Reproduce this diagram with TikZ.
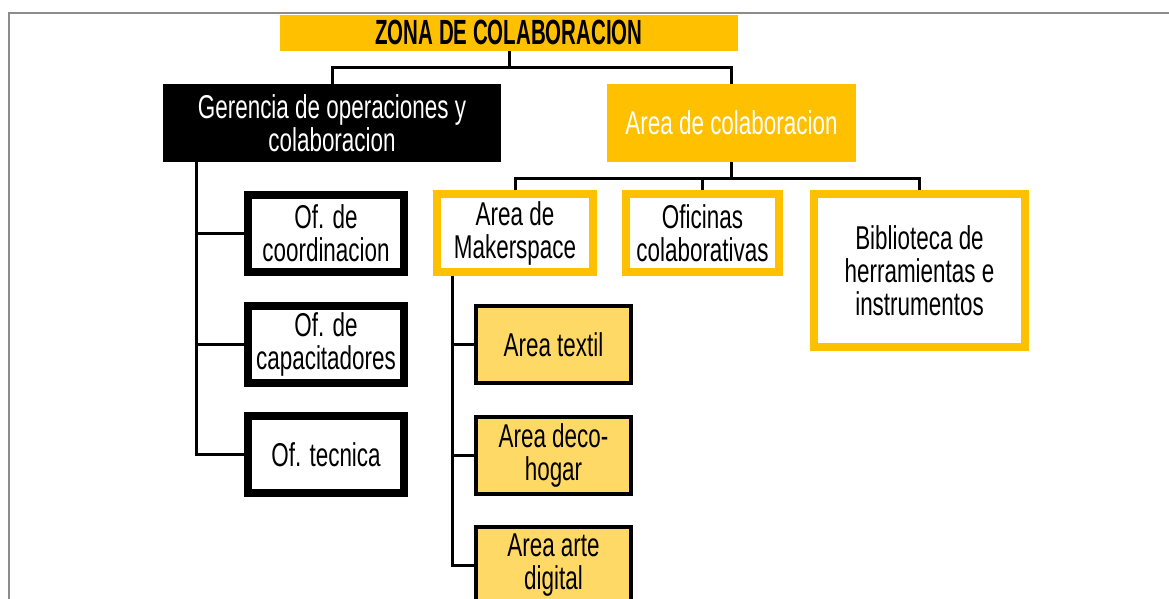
\documentclass[tikz,border=0pt]{standalone}
\usepackage{fontspec}
\setmainfont{Liberation Sans}[FakeStretch=0.68]
\newfontfamily\titlefont{Liberation Sans}[FakeStretch=0.585]
\usepackage{xcolor}
\usetikzlibrary{positioning}

\definecolor{gold}{HTML}{FFC000}
\definecolor{lightgold}{HTML}{FFD966}
\definecolor{framegray}{HTML}{8C8C8C}

\begin{document}
\begin{tikzpicture}[x=1pt, y=-1pt,
    txt/.style={align=center, inner sep=2pt, font=\fontsize{33}{33}\selectfont},
    goldbox/.style={txt, draw=gold, line width=8pt, fill=white},
    blackbox/.style={txt, draw=black, line width=8pt, fill=white},
    subbox/.style={txt, draw=black, line width=4pt, fill=lightgold,
        minimum width=155pt, minimum height=77pt},
    conn/.style={line width=3pt}]
    \useasboundingbox (0,0) rectangle (1169,599);
    \clip (0,0) rectangle (1169,599);

    % --- Frame ---
    \draw[framegray, line width=2pt] (9,599) -- (9,13.3) -- (1169,13.3);

    % --- Title ---
    \node[fill=gold, minimum width=458pt, minimum height=35.7pt, inner sep=0pt,
        font=\titlefont\bfseries\fontsize{35}{36}\selectfont] (title) at (509,32.9) {ZONA DE COLABORACION};

    % --- Second level ---
    \node[txt, fill=black, text=white, minimum width=338pt, minimum height=77.5pt] (ger) at (332,122.8)
        {Gerencia de operaciones y\\colaboracion};
    \node[txt, fill=gold, text=white, minimum width=249pt, minimum height=77.5pt] (areacol) at (731.5,122.8)
        {Area de colaboracion};

    % --- Offices (under Gerencia) ---
    \node[blackbox, minimum width=156pt, minimum height=77pt] (ofcoord) at (326,233.3) {Of. de\\coordinacion};
    \node[blackbox, minimum width=156pt, minimum height=77pt] (ofcap) at (326,344.2) {Of. de\\capacitadores};
    \node[blackbox, minimum width=156pt, minimum height=77pt] (oftec) at (326,454.5) {Of. tecnica};

    % --- Areas (under Area de colaboracion) ---
    \node[goldbox, minimum width=156pt, minimum height=78pt] (maker) at (515,233) {Area de\\Makerspace};
    \node[goldbox, minimum width=153pt, minimum height=78pt] (ofic) at (702.5,233) {Oficinas\\colaborativas};
    \node[goldbox, minimum width=211pt, minimum height=153pt] (biblio) at (919.5,270.5)
        {Biblioteca de\\herramientas e\\instrumentos};

    % --- Makerspace areas ---
    \node[subbox] (atextil) at (553.5,344.5) {Area textil};
    \node[subbox] (adeco) at (553.5,455) {Area deco-\\hogar};
    \node[subbox] (aarte) at (553.5,565.5) {Area arte\\digital};

    % --- Connectors ---
    \coordinate (topjoin) at ([yshift=-16.3pt]title.south);
    \draw[conn] (title.south) -- (topjoin);
    \draw[conn] (ger.north) |- (topjoin) -| (areacol.north);

    \coordinate (areajoin) at ([yshift=-16.5pt]areacol.south);
    \draw[conn] (areacol.south) -- (areajoin);
    \draw[conn] (maker.north) |- (areajoin) -| (biblio.north);
    \draw[conn] (areajoin -| ofic.north) -- (ofic.north);

    \coordinate (gertrunk) at ([xshift=34pt]ger.south west);
    \foreach \n in {ofcoord,ofcap,oftec}
        \draw[conn] (gertrunk) |- (\n.west);

    \coordinate (makertrunk) at ([xshift=19pt]maker.south west);
    \foreach \n in {atextil,adeco,aarte}
        \draw[conn] (makertrunk) |- (\n.west);
\end{tikzpicture}
\end{document}
